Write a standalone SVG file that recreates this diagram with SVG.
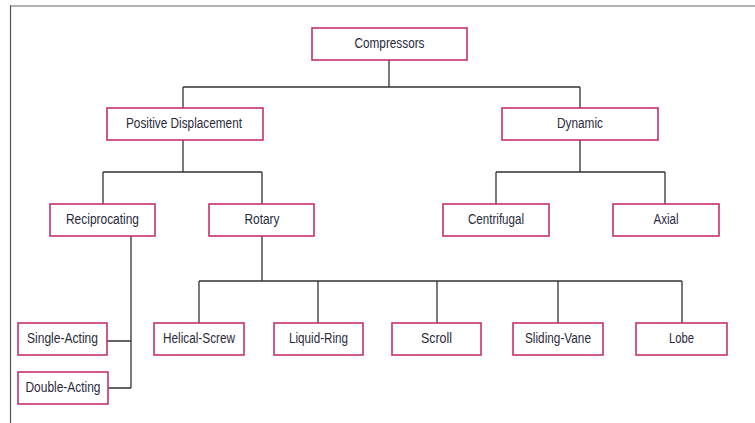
<svg xmlns="http://www.w3.org/2000/svg" width="755" height="423" viewBox="0 0 755 423">
<style>
.box{fill:#fff;stroke:#c8306e;stroke-width:1.6}
.lbl{font-family:"Liberation Sans",Arial,sans-serif;font-size:14px;fill:#2a2a3a;text-anchor:middle;dominant-baseline:central}
.ln{fill:none;stroke:#333;stroke-width:1.3}
</style>
<rect width="755" height="423" fill="#fff"/>
<line x1="10" y1="6" x2="755" y2="6" stroke="#999" stroke-width="1.6"/>
<line x1="10.5" y1="5.5" x2="10.5" y2="423" stroke="#555" stroke-width="1.2"/>
<g id="connectors" class="ln">
<path d="M389 60V87M183 87H580M183 87V108M580 87V108"/>
<path d="M183 140V172M103 172H262M103 172V204M262 172V204"/>
<path d="M580 140V172M496 172H665M496 172V204M665 172V204"/>
<path d="M131 236V388M107 341H131M108 388H131"/>
<path d="M262 236V281M199 281H682M199 281V323M318 281V323M437 281V323M558 281V323M682 281V323"/>
</g>
<g id="compressors"><rect class="box" x="312" y="28" width="155" height="32"/><text class="lbl" x="389.5" y="43" textLength="70" lengthAdjust="spacingAndGlyphs">Compressors</text></g>
<g id="positive-displacement"><rect class="box" x="107" y="108" width="156" height="32"/><text class="lbl" x="184" y="123" textLength="116" lengthAdjust="spacingAndGlyphs">Positive Displacement</text></g>
<g id="dynamic"><rect class="box" x="502" y="108" width="156" height="32"/><text class="lbl" x="580" y="123" textLength="46" lengthAdjust="spacingAndGlyphs">Dynamic</text></g>
<g id="reciprocating"><rect class="box" x="50" y="204" width="105" height="32"/><text class="lbl" x="102.5" y="219" textLength="73" lengthAdjust="spacingAndGlyphs">Reciprocating</text></g>
<g id="rotary"><rect class="box" x="209" y="204" width="105" height="32"/><text class="lbl" x="262" y="219" textLength="35" lengthAdjust="spacingAndGlyphs">Rotary</text></g>
<g id="centrifugal"><rect class="box" x="443" y="204" width="106" height="32"/><text class="lbl" x="496" y="219" textLength="56" lengthAdjust="spacingAndGlyphs">Centrifugal</text></g>
<g id="axial"><rect class="box" x="613" y="204" width="106" height="32"/><text class="lbl" x="666" y="219" textLength="25" lengthAdjust="spacingAndGlyphs">Axial</text></g>
<g id="single-acting"><rect class="box" x="18" y="323" width="89" height="32"/><text class="lbl" x="62.5" y="338" textLength="71" lengthAdjust="spacingAndGlyphs">Single-Acting</text></g>
<g id="double-acting"><rect class="box" x="18" y="372" width="90" height="32"/><text class="lbl" x="63" y="387" textLength="75" lengthAdjust="spacingAndGlyphs">Double-Acting</text></g>
<g id="helical-screw"><rect class="box" x="154" y="323" width="90" height="32"/><text class="lbl" x="199" y="338" textLength="72" lengthAdjust="spacingAndGlyphs">Helical-Screw</text></g>
<g id="liquid-ring"><rect class="box" x="274" y="323" width="89" height="32"/><text class="lbl" x="318.5" y="338" textLength="59" lengthAdjust="spacingAndGlyphs">Liquid-Ring</text></g>
<g id="scroll"><rect class="box" x="392" y="323" width="89" height="32"/><text class="lbl" x="436.5" y="338" textLength="31" lengthAdjust="spacingAndGlyphs">Scroll</text></g>
<g id="sliding-vane"><rect class="box" x="513" y="323" width="90" height="32"/><text class="lbl" x="558" y="338" textLength="66" lengthAdjust="spacingAndGlyphs">Sliding-Vane</text></g>
<g id="lobe"><rect class="box" x="636" y="323" width="91" height="32"/><text class="lbl" x="681.5" y="338" textLength="25" lengthAdjust="spacingAndGlyphs">Lobe</text></g>
</svg>
